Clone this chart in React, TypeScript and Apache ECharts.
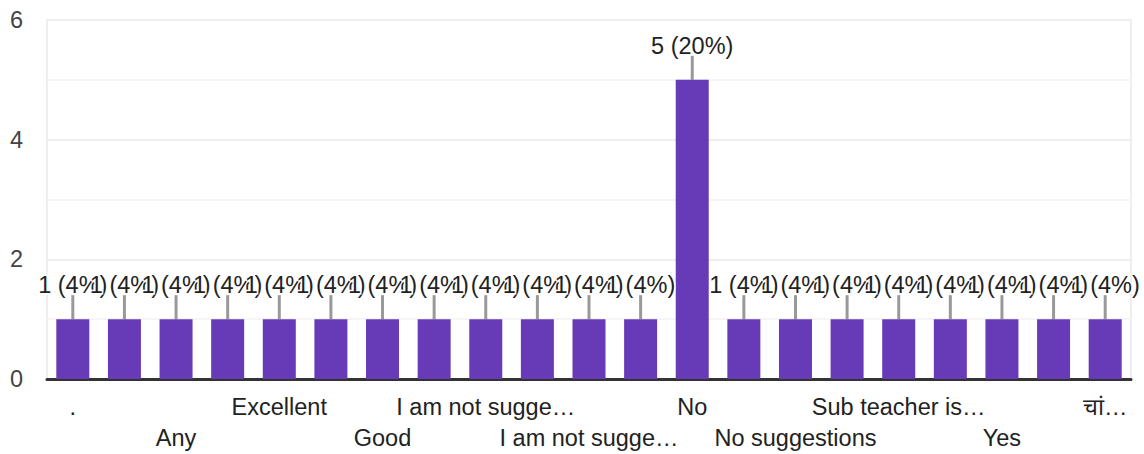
import React, { useEffect, useRef } from "react";
import * as echarts from "echarts";

const categories = [
  ".",
  "Activity",
  "Any",
  "Best",
  "Excellent",
  "Fine",
  "Good",
  "Helpful",
  "I am not sugge…",
  "I am not sugge…",
  "I am not sugge…",
  "Nice",
  "No",
  "No comments",
  "No suggestions",
  "Nothing",
  "Sub teacher is…",
  "Very good",
  "Yes",
  "Yes sir",
  "चां…",
];

const counts = [1, 1, 1, 1, 1, 1, 1, 1, 1, 1, 1, 1, 5, 1, 1, 1, 1, 1, 1, 1, 1];

const yTicks = [0, 2, 4, 6];

const FONT = "'Liberation Sans', Arial, sans-serif";
const FS = 23.5;

export default function App() {
  const ref = useRef<HTMLDivElement>(null);

  useEffect(() => {
    if (!ref.current) return;
    const chart = echarts.init(ref.current, null, { renderer: "svg" });
    const total = counts.reduce((a, b) => a + b, 0);
    chart.setOption({
      animation: false,
      grid: {
        left: 47,
        right: 13,
        top: 20,
        bottom: 75,
        show: true,
        borderColor: "#eeeeee",
        borderWidth: 2,
        outerBoundsMode: "none",
        containLabel: false,
      },
      xAxis: {
        type: "category",
        data: categories,
        axisLine: { show: true, lineStyle: { color: "#333333", width: 3 } },
        axisTick: { show: false },
        axisLabel: {
          interval: 0,
          margin: 12,
          fontSize: FS,
          lineHeight: 31,
          color: "#222222",
          fontFamily: FONT,
          formatter: (name: string, idx: number) => {
            if (idx % 2 === 1) return "";
            return idx % 4 === 2 ? "\n" + name : name;
          },
        },
      },
      yAxis: {
        type: "value",
        min: yTicks[0],
        max: yTicks[yTicks.length - 1],
        interval: 2,
        axisLine: { show: false },
        axisTick: { show: false },
        axisLabel: {
          margin: 24,
          fontSize: FS,
          color: "#444444",
          fontFamily: FONT,
        },
        splitLine: { show: true, lineStyle: { color: "#eeeeee", width: 2 } },
        minorTick: { show: false, splitNumber: 2 },
        minorSplitLine: { show: true, lineStyle: { color: "#f5f5f5", width: 2 } },
      },
      series: [
        {
          type: "bar",
          data: counts,
          barWidth: 33,
          itemStyle: { color: "#673ab7" },
          z: 3,
          label: {
            show: true,
            position: "top",
            distance: 22,
            fontSize: FS,
            color: "#222222",
            fontFamily: FONT,
            textBorderColor: "#ffffff",
            textBorderWidth: 3,
            formatter: (p: any) =>
              `${p.value} (${Math.round((p.value / total) * 100)}%)`,
          },
        },
        {
          type: "custom",
          z: 2,
          data: counts.map((v, i) => [i, v]),
          renderItem: (params: any, api: any) => {
            const p = api.coord([api.value(0), api.value(1)]);
            return {
              type: "line",
              shape: { x1: p[0], y1: p[1], x2: p[0], y2: p[1] - 24 },
              style: { stroke: "#999999", lineWidth: 3 },
            };
          },
        },
      ],
    });
    return () => chart.dispose();
  }, []);

  return (
    <div
      ref={ref}
      style={{ position: "fixed", left: 0, top: 0, width: 1144, height: 454, background: "#fff" }}
    />
  );
}
